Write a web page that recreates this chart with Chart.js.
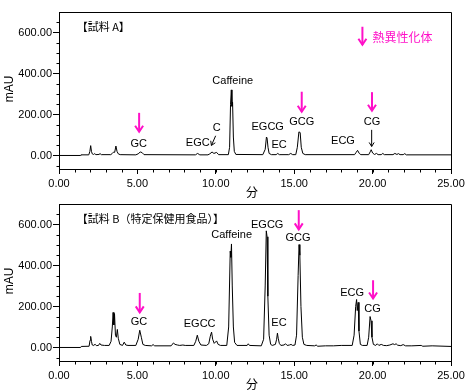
<!DOCTYPE html>
<html><head><meta charset="utf-8">
<script src="https://cdn.jsdelivr.net/npm/chart.js@4"></script>
<style>
html,body{margin:0;padding:0;background:#fff;}
#wrap{position:relative;width:474px;height:392px;overflow:hidden;background:#fff;}
canvas{position:absolute;left:0;}
</style></head><body>
<div id="wrap">
<canvas id="cA" width="474" height="200" style="top:0"></canvas>
<canvas id="cB" width="474" height="200" style="top:192px"></canvas>
</div>
<script>
// ---- data: sample A ----
const timesA = [0,1.38,1.40,1.90,1.97,2.02,2.07,2.12,2.20,2.28,2.35,2.55,2.62,2.70,3.30,3.40,3.50,3.55,3.63,3.70,3.78,3.90,4.90,5.05,5.18,5.30,5.42,8.70,8.84,8.98,9.50,9.62,9.76,9.88,10.05,10.18,10.80,10.88,10.94,10.99,11.03,11.07,11.12,11.18,11.28,13.00,13.15,13.23,13.27,13.33,13.40,13.55,13.85,13.95,14.05,14.65,14.78,14.90,15.10,15.20,15.30,15.38,15.45,15.55,15.70,18.85,18.95,19.04,19.15,19.25,19.75,19.85,19.91,20.00,20.12,20.25,20.35,20.55,20.65,20.75,21.30,21.42,21.55,21.65,21.75,21.95,22.05,22.15,25];
const valuesA = [0,0,3,3,20,48,20,8,5,9,4,5,9,4,4,10,18,15,46,20,8,4,3,8,17,14,4,3,10,3,3,8,17,10,15,4,4,40,250,320,240,260,90,20,5,4,30,90,85,40,10,4,4,10,4,4,10,4,4,40,115,112,40,10,4,4,15,25,10,4,4,18,28,12,5,10,4,4,10,4,4,10,5,9,4,4,9,3,3];
// ---- data: sample B ----
const timesB = [0,1.38,1.42,1.92,1.98,2.02,2.07,2.12,2.22,2.30,2.38,2.52,2.60,2.68,2.90,3.20,3.32,3.40,3.45,3.50,3.54,3.60,3.66,3.72,3.78,3.88,4.05,4.16,4.26,4.40,4.90,5.05,5.15,5.25,5.35,5.50,5.90,6.00,6.10,7.15,7.30,7.40,7.55,7.70,7.90,8.05,8.60,8.72,8.82,8.92,9.05,9.40,9.55,9.65,9.73,9.80,9.90,10.05,10.15,10.30,10.70,10.82,10.92,10.96,11.00,11.05,11.12,11.20,11.35,12.00,12.07,12.15,12.90,13.05,13.15,13.22,13.27,13.32,13.40,13.50,13.60,13.80,13.88,13.93,13.98,14.05,14.15,14.35,14.45,14.55,14.70,14.80,14.90,15.05,15.15,15.25,15.31,15.36,15.43,15.52,15.62,15.80,16.30,16.40,16.50,17.00,17.50,18.00,18.70,18.82,18.92,18.98,19.02,19.08,19.13,19.22,19.35,19.65,19.75,19.84,19.90,19.96,20.05,20.20,20.30,20.40,20.55,20.70,20.90,21.10,21.30,21.40,21.50,21.60,21.80,21.95,22.10,22.50,23.10,23.20,23.80,25];
const valuesB = [0,0,5,6,35,54,30,12,10,16,9,10,20,12,10,10,30,100,171,110,165,60,50,88,45,15,10,26,12,10,10,40,84,50,15,10,8,14,8,8,22,15,12,10,12,10,10,30,60,30,12,10,18,55,75,40,20,32,15,10,10,100,470,440,505,300,100,25,10,10,18,10,8,40,300,569,540,250,60,15,10,15,40,70,45,20,10,12,18,10,12,15,10,12,60,350,502,450,200,50,15,10,8,12,6,8,8,10,10,60,200,234,180,220,80,15,10,10,50,151,130,50,15,10,18,10,15,10,9,12,18,14,18,11,9,14,8,8,10,6,8,5];
// ---- axes ----
const xTicks = [0,5,10,15,20,25];
const yTicks = [0,200,400,600];
const xMinorStep = 1, yMinorStep = 50;
const xRange = [0,25], yRange = [-66,700];
// ---- annotations ----
const MAG = '#ff10c8';
const annA = {
  texts: [
    {text:'【試料 A】', t:1.13, v:629, align:'left', font:'11px "Noto Sans CJK JP"'},
    {text:'熱異性化体', t:20.0, v:574, align:'left', color:MAG, font:'12px "Noto Sans CJK JP"'},
    {text:'GC', t:5.08, v:57},{text:'EGC', t:8.85, v:62},{text:'C', t:10.06, v:135},
    {text:'Caffeine', t:11.08, v:364},{text:'EGCG', t:13.31, v:137},{text:'EC', t:14.04, v:51},
    {text:'GCG', t:15.48, v:163},{text:'ECG', t:18.11, v:72},{text:'CG', t:19.96, v:164}
  ],
  magArrows: [{t:19.35,v1:628,v2:540},{t:5.11,v1:208,v2:116},{t:15.48,v1:311,v2:213},{t:19.96,v1:309,v2:218}],
  blackArrows: [{t1:9.99,v1:96,t2:9.72,v2:49},{t1:19.94,v1:125,t2:19.94,v2:44}]
};
const annB = {
  texts: [
    {text:'【試料 B（特定保健用食品）】', t:1.13, v:629, align:'left', font:'11px "Noto Sans CJK JP"'},
    {text:'GC', t:5.10, v:122},{text:'EGCC', t:8.97, v:114},{text:'Caffeine', t:11.01, v:551},
    {text:'EGCG', t:13.28, v:600},{text:'GCG', t:15.24, v:532},{text:'EC', t:14.03, v:119},
    {text:'ECG', t:18.69, v:268},{text:'CG', t:19.99, v:190}
  ],
  magArrows: [{t:5.15,v1:266,v2:171},{t:15.29,v1:670,v2:576},{t:20.03,v1:328,v2:239}],
  blackArrows: []
};
const LABEL_FONT = '11px "Liberation Sans", Arial, sans-serif';

function arrow(ctx, x1, y1, x2, y2, color, w, hl, hw) {
  ctx.save();
  ctx.strokeStyle = color; ctx.lineWidth = w; ctx.lineCap = 'butt';
  ctx.beginPath(); ctx.moveTo(x1, y1); ctx.lineTo(x2, y2); ctx.stroke();
  const a = Math.atan2(y2 - y1, x2 - x1);
  ctx.beginPath();
  ctx.moveTo(x2 - hl*Math.cos(a) + hw*Math.sin(a), y2 - hl*Math.sin(a) - hw*Math.cos(a));
  ctx.lineTo(x2, y2);
  ctx.lineTo(x2 - hl*Math.cos(a) - hw*Math.sin(a), y2 - hl*Math.sin(a) + hw*Math.cos(a));
  ctx.stroke();
  ctx.restore();
}

function annPlugin(ann) {
  return {
    id: 'ann',
    afterDraw(chart) {
      const ctx = chart.ctx, xs = chart.scales.x, ys = chart.scales.y, ca = chart.chartArea;
      ctx.save();
      // frame top/right
      ctx.strokeStyle = '#000'; ctx.lineWidth = 1;
      ctx.beginPath();
      const L = Math.round(ca.left)+0.5, R = Math.round(ca.right)+0.5, T = Math.round(ca.top)+0.5, B = Math.round(ca.bottom)+0.5;
      ctx.moveTo(L, T); ctx.lineTo(R, T); ctx.lineTo(R, B); ctx.stroke();
      // minor ticks
      ctx.beginPath();
      for (let t = xRange[0]; t <= xRange[1]; t += xMinorStep) {
        const px = Math.round(xs.getPixelForValue(t)) + 0.5;
        ctx.moveTo(px, B); ctx.lineTo(px, B + 3);
      }
      for (let v = -50; v <= 650; v += yMinorStep) {
        const py = Math.round(ys.getPixelForValue(v)) + 0.5;
        ctx.moveTo(L, py); ctx.lineTo(L - 3, py);
      }
      ctx.stroke();
      // axis titles
      ctx.fillStyle = '#000';
      ctx.font = '12px "Liberation Sans", Arial, sans-serif';
      ctx.textAlign = 'center'; ctx.textBaseline = 'middle';
      ctx.save(); ctx.translate(10, ca.top + 77); ctx.rotate(-Math.PI/2); ctx.fillText('mAU', 0, 0); ctx.restore();
      ctx.font = '12px "Noto Sans CJK JP"';
      ctx.fillText('分', (ca.left + ca.right)/2 - 3, ca.bottom + 23);
      // texts
      ann.texts.forEach(o => {
        ctx.font = o.font || LABEL_FONT;
        ctx.fillStyle = o.color || '#000';
        ctx.textAlign = o.align || 'center';
        ctx.textBaseline = 'middle';
        ctx.fillText(o.text, xs.getPixelForValue(o.t), ys.getPixelForValue(o.v));
      });
      ann.magArrows.forEach(a => {
        const x = xs.getPixelForValue(a.t);
        arrow(ctx, x, ys.getPixelForValue(a.v1), x, ys.getPixelForValue(a.v2), MAG, 2, 6, 4);
      });
      ann.blackArrows.forEach(a => {
        arrow(ctx, xs.getPixelForValue(a.t1), ys.getPixelForValue(a.v1), xs.getPixelForValue(a.t2), ys.getPixelForValue(a.v2), '#000', 1, 4, 2.5);
      });
      ctx.restore();
    }
  };
}

function makeChart(id, times, values, ann) {
  return new Chart(document.getElementById(id), {
    type: 'line',
    data: { datasets: [{ data: times.map((t, i) => ({x: t, y: values[i]})), borderColor: '#000', borderWidth: 1, pointRadius: 0, tension: 0, fill: false }] },
    options: {
      responsive: false, animation: false, events: [],
      layout: { padding: { left: 0, right: 23, top: 12, bottom: 0 } },
      plugins: { legend: { display: false }, tooltip: { enabled: false } },
      scales: {
        x: {
          type: 'linear', min: xRange[0], max: xRange[1],
          afterFit(s) { s.height = 31; },
          afterBuildTicks(s) { s.ticks = xTicks.map(v => ({value: v})); },
          ticks: { color: '#000', padding: 3, maxRotation: 0, autoSkip: false, font: { family: '"Liberation Sans", Arial, sans-serif', size: 11 }, callback: v => Number(v).toFixed(2) },
          grid: { drawOnChartArea: false, tickLength: 5, color: '#000', tickColor: '#000' },
          border: { display: true, color: '#000', width: 1 }
        },
        y: {
          type: 'linear', min: yRange[0], max: yRange[1],
          afterFit(s) { s.width = 59; },
          afterBuildTicks(s) { s.ticks = yTicks.map(v => ({value: v})); },
          ticks: { color: '#000', padding: 1, font: { family: '"Liberation Sans", Arial, sans-serif', size: 11 }, callback: v => Number(v).toFixed(2) },
          grid: { drawOnChartArea: false, tickLength: 6, color: '#000', tickColor: '#000' },
          border: { display: true, color: '#000', width: 1 }
        }
      }
    },
    plugins: [annPlugin(ann)]
  });
}
makeChart('cA', timesA, valuesA, annA);
makeChart('cB', timesB, valuesB, annB);
</script>
</body></html>
